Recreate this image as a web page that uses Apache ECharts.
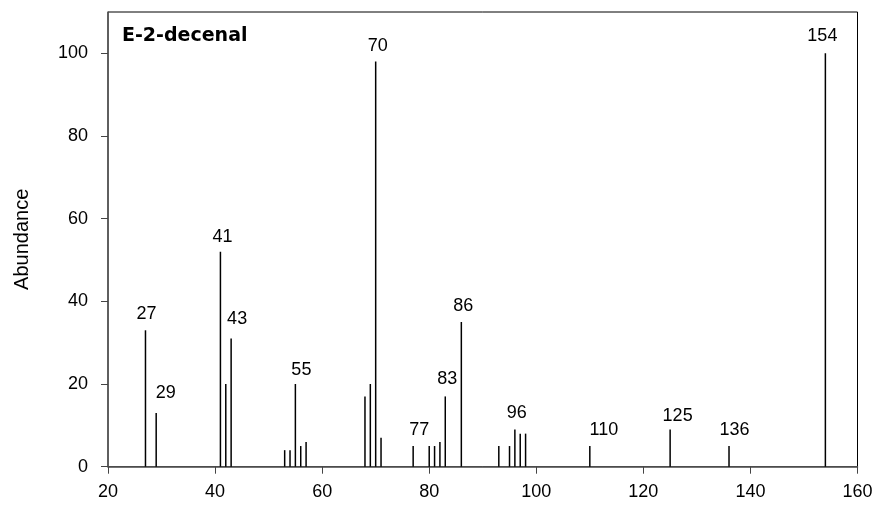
<!DOCTYPE html>
<html>
<head>
<meta charset="utf-8">
<script src="https://cdn.jsdelivr.net/npm/echarts@6/dist/echarts.min.js"></script>
<style>
  html, body { margin: 0; padding: 0; background: #fff; }
  #chart { width: 877px; height: 505px; }
</style>
</head>
<body>
<div id="chart"></div>
<script>
// Mass spectrum of E-2-decenal: m/z versus relative abundance
const compound = 'E-2-decenal';
const mz = [27, 29, 41, 42, 43, 53, 54, 55, 56, 57, 68, 69, 70, 71, 77, 80, 81, 82, 83, 86, 93, 95, 96, 97, 98, 110, 125, 136, 154];
const abundance = [33, 13, 52, 20, 31, 4, 4, 20, 5, 6, 17, 20, 98, 7, 5, 5, 5, 6, 17, 35, 5, 5, 9, 8, 8, 5, 9, 5, 100];
const labelledPeaks = [27, 29, 41, 43, 55, 70, 77, 83, 86, 96, 110, 125, 136, 154];
const xTicks = [20, 40, 60, 80, 100, 120, 140, 160];
const yTicks = [0, 20, 40, 60, 80, 100];

// small nudges so peak labels sit clear of neighbouring lines
const labelNudge = {
  27: [1, 0], 29: [9.5, -3.5], 41: [2, 1], 43: [6, -3.5], 55: [6, 2.5],
  70: [2, 0.5], 77: [6, 0], 83: [2, -1], 86: [2, 0], 96: [2, 0],
  110: [14, 0], 125: [7.5, 3], 136: [5.5, -0.5], 154: [-3, -1.5]
};

const tickFont = { fontFamily: 'Liberation Sans', fontSize: 18, color: '#000' };

const peaks = mz.map((m, i) => {
  const item = { value: [m, abundance[i]] };
  if (labelledPeaks.includes(m)) {
    item.label = {
      show: true,
      position: 'top',
      distance: 7,
      offset: labelNudge[m] || [0, 0],
      formatter: String(m),
      fontFamily: 'Liberation Sans',
      fontSize: 18,
      color: '#000'
    };
  }
  return item;
});

const chart = echarts.init(document.getElementById('chart'), null, { renderer: 'canvas' });
chart.setOption({
  animation: false,
  backgroundColor: '#fff',
  title: {
    text: compound,
    left: 122,
    top: 27,
    padding: 0,
    textStyle: { fontFamily: 'DejaVu Sans', fontSize: 19, fontWeight: 'bold', color: '#000' }
  },
  grid: {
    left: 108, right: 19.5, top: 12, bottom: 38.3,
    show: true, borderColor: '#000', borderWidth: 1, backgroundColor: 'transparent'
  },
  xAxis: {
    type: 'value',
    min: xTicks[0], max: xTicks[xTicks.length - 1], interval: 20,
    splitLine: { show: false },
    axisLine: { show: true, onZero: false, lineStyle: { color: '#555', width: 1.5 } },
    axisTick: { show: true, inside: false, length: 7, lineStyle: { color: '#444', width: 1 } },
    axisLabel: { margin: 16, ...tickFont }
  },
  yAxis: {
    type: 'value',
    min: 0, max: 110,
    name: 'Abundance',
    nameLocation: 'middle',
    nameGap: 76,
    nameTextStyle: { fontFamily: 'Liberation Sans', fontSize: 20, color: '#000' },
    splitLine: { show: false },
    axisLine: { show: true, lineStyle: { color: '#555', width: 1.5 } },
    axisTick: { show: true, inside: false, length: 7, customValues: yTicks, lineStyle: { color: '#444', width: 1 } },
    axisLabel: { margin: 20, customValues: yTicks, ...tickFont }
  },
  series: [{
    type: 'bar',
    barWidth: 1.5,
    itemStyle: { color: '#000' },
    data: peaks
  }]
});
</script>
</body>
</html>
